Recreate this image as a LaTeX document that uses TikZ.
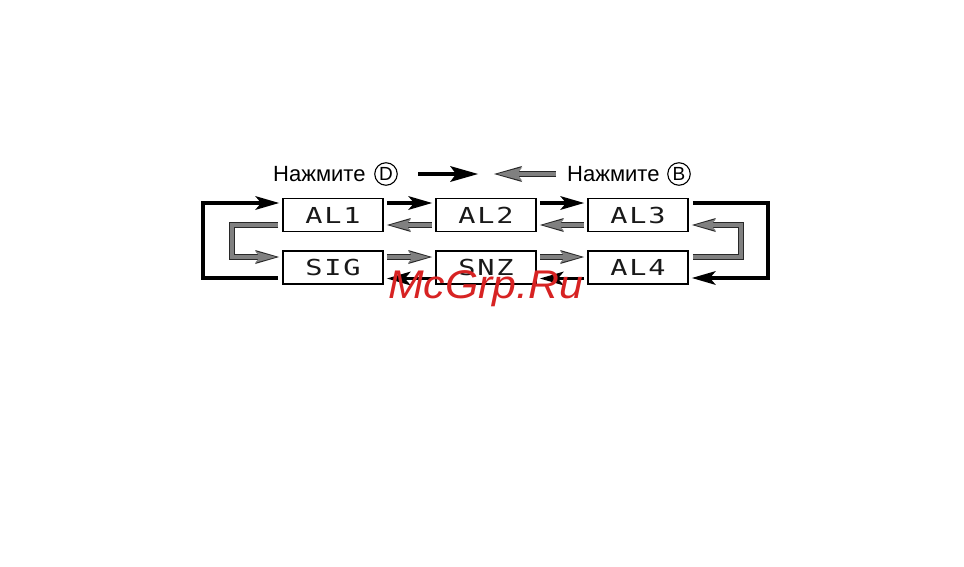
\documentclass[tikz,border=0pt]{standalone}
\usepackage{fontspec}
\setmainfont{Liberation Sans}
\newfontfamily\lcdfont[FakeStretch=1.3,LetterSpace=8]{DejaVu Sans Mono}
\newfontfamily\wmfont[FakeStretch=1.07]{Liberation Sans}
\usetikzlibrary{arrows.meta,calc}
\definecolor{midgray}{RGB}{128,128,128}
\definecolor{edgegray}{RGB}{40,40,40}
\definecolor{wmred}{RGB}{215,35,35}
\begin{document}
\begin{tikzpicture}[x=1pt,y=-1pt,
  box/.style={draw,line width=1.8pt,minimum width=100pt,minimum height=33pt,inner sep=0pt,
    font=\lcdfont\fontsize{22}{22}\selectfont,text=black!90},
  barrow/.style={line width=3.6pt,-{Stealth[length=24pt,width=14pt,inset=6pt,line width=0pt]}},
  bloop/.style={line width=4pt,line join=miter,-{Stealth[length=24pt,width=14pt,inset=6pt,line width=0pt]}},
  garrow/.style={draw=midgray,line width=3.6pt,line join=miter,shorten >=3pt,
    -{Stealth[length=21pt,width=11.5pt,inset=5pt,line width=0pt]},
    preaction={draw=edgegray,line width=5.4pt,shorten >=0pt,
      -{Stealth[length=24pt,width=14pt,inset=6pt,line width=0pt]}}},
  hbarrow/.style={line width=4pt,-{Stealth[length=28pt,width=16pt,inset=6pt,line width=0pt]}},
  hgarrow/.style={draw=midgray,line width=3.6pt,shorten >=3.2pt,
    -{Stealth[length=25pt,width=13.5pt,inset=5pt,line width=0pt]},
    preaction={draw=edgegray,line width=5.6pt,shorten >=0pt,
      -{Stealth[length=28pt,width=16pt,inset=6pt,line width=0pt]}}},
  hdtext/.style={anchor=base west,inner sep=0pt,font=\fontsize{22}{26}\selectfont},
  circkey/.style={circle,draw,line width=1.1pt,inner sep=0pt,minimum size=22.5pt,font=\fontsize{19}{19}\selectfont},
]
\fill[white] (0,0) rectangle (964,567);
\useasboundingbox (0,0) rectangle (964,567);

% boxes
\node[box] (AL1) at (333,215) {AL1};
\node[box] (AL2) at (486,215) {AL2};
\node[box] (AL3) at (638,215) {AL3};
\node[box] (SIG) at (333,267.5) {SIG};
\node[box] (SNZ) at (486,267.5) {SNZ};
\node[box] (AL4) at (638,267.5) {AL4};

% header
\node[hdtext] (hdL) at (273,182) {Нажмите};
\node[circkey] (keyD) at (386,174) {D};
\node[hdtext] (hdR) at (567,182) {Нажмите};
\node[circkey] (keyB) at (679,174) {B};
\coordinate (hbs) at (418,174);
\coordinate (hbe) at (478,174);
\coordinate (hgs) at (556,174);
\coordinate (hge) at (494,174);
\draw[hbarrow] (hbs) -- (hbe);
\draw[hgarrow] (hgs) -- (hge);

% top row
\draw[barrow] ([shift={(3,-12)}]AL1.east) -- ([shift={(-3,-12)}]AL2.west);
\draw[barrow] ([shift={(3,-12)}]AL2.east) -- ([shift={(-3,-12)}]AL3.west);
\draw[garrow] ([shift={(-3,10)}]AL2.west) -- ([shift={(3,10)}]AL1.east);
\draw[garrow] ([shift={(-3,10)}]AL3.west) -- ([shift={(3,10)}]AL2.east);

% bottom row
\draw[garrow] ([shift={(3,-10.5)}]SIG.east) -- ([shift={(-3,-10.5)}]SNZ.west);
\draw[garrow] ([shift={(3,-10.5)}]SNZ.east) -- ([shift={(-3,-10.5)}]AL4.west);
\draw[barrow] ([shift={(-3,11)}]AL4.west) -- ([shift={(3,11)}]SNZ.east);
\draw[barrow] ([shift={(-3,11)}]SNZ.west) -- ([shift={(3,11)}]SIG.east);

% left loops
\draw[bloop] ([shift={(-4,10.5)}]SIG.west) -- ++(-75,0) |- ([shift={(-3,-12)}]AL1.west);
\draw[garrow] ([shift={(-4,10)}]AL1.west) -- ++(-46,0) |- ([shift={(-3,-10.5)}]SIG.west);

% right loops
\draw[bloop] ([shift={(4,-12)}]AL3.east) -- ++(75,0) |- ([shift={(3,10.5)}]AL4.east);
\draw[garrow] ([shift={(4,-10.5)}]AL4.east) -- ++(48,0) |- ([shift={(3,10)}]AL3.east);

% watermark
\node[anchor=base west,inner sep=0pt,text=wmred,font=\wmfont\itshape\fontsize{40}{40}\selectfont] (wm) at (388,298) {McGrp.Ru};
\end{tikzpicture}
\end{document}
